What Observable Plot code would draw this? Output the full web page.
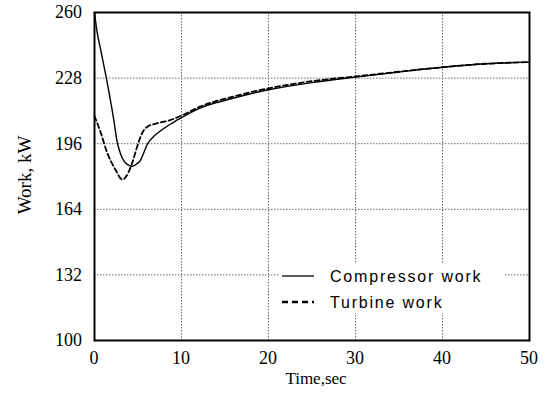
<!DOCTYPE html>
<html><head><meta charset="utf-8">
<script src="https://cdn.jsdelivr.net/npm/d3@7"></script>
<script src="https://cdn.jsdelivr.net/npm/@observablehq/plot@0.6"></script>
<style>body{margin:0;background:#fff}</style>
</head><body><div id="chart"></div>
<script>
const compTime = [0, 0.3, 0.7, 1.45, 2.2, 2.6, 3.0, 3.4, 3.8, 4.3, 4.8, 5.3, 5.7, 6.1, 6.8, 7.6, 8.7, 9.9, 12.2, 15.6, 20, 25, 30, 35, 40, 45, 50];
const compWork = [260, 250.5, 242, 226, 208, 197, 191, 187.5, 185.8, 185, 186, 188, 192, 196, 199.5, 202.3, 205.5, 208.5, 213.5, 217.8, 222.3, 225.8, 228.5, 231, 233.3, 235, 235.8];
const turbTime = [0, 0.7, 1.45, 2.4, 3.2, 3.9, 4.4, 4.9, 5.3, 5.7, 6.2, 6.8, 8.7, 9.9, 12.2, 15.6, 20, 25, 30, 35, 40, 45, 50];
const turbWork = [209.5, 201.6, 191.7, 183.4, 178.5, 182, 187.5, 194.5, 199.5, 202.8, 204.6, 205.5, 207.5, 209.5, 214.2, 218.6, 223, 226.5, 228.8, 231.1, 233.3, 235, 235.8];
const xTicks = [0, 10, 20, 30, 40, 50];
const yTicks = [100, 132, 164, 196, 228, 260];
const seriesNames = ["Compressor work", "Turbine work"];

const comp = compTime.map((t, i) => ({t, w: compWork[i]}));
const turb = turbTime.map((t, i) => ({t, w: turbWork[i]}));

const serif = "Liberation Serif";
const plot = Plot.plot({
  width: 555, height: 395,
  marginLeft: 94, marginRight: 26, marginTop: 12, marginBottom: 55,
  style: {fontFamily: serif, background: "white", color: "black", overflow: "visible"},
  x: {domain: [0, 50], axis: null},
  y: {domain: [100, 260], axis: null},
  marks: [
    Plot.ruleX(xTicks.slice(1, -1), {stroke: "#666", strokeWidth: 1, strokeDasharray: "1.5,1.5"}),
    Plot.ruleY(yTicks.slice(1, -1), {stroke: "#666", strokeWidth: 1, strokeDasharray: "1.5,1.5"}),
    Plot.line(comp, {x: "t", y: "w", stroke: "black", strokeWidth: 1.4, curve: "monotone-x"}),
    Plot.line(turb, {x: "t", y: "w", stroke: "black", strokeWidth: 1.8, strokeDasharray: "5,3", curve: "monotone-x"}),
    Plot.frame({stroke: "black", strokeWidth: 2})
  ]
});
document.getElementById("chart").appendChild(plot);

const svg = d3.select(plot);
const sx = plot.scale("x"), sy = plot.scale("y");
// tick labels through the plot's scales
const tg = svg.append("g").attr("font-family", serif).style("font-size", "18px").attr("fill", "black");
xTicks.forEach(v => tg.append("text").attr("x", sx.apply(v)).attr("y", 358).attr("dy", "0.35em")
  .attr("text-anchor", "middle").style("font-size", "18px").text(String(v)));
yTicks.forEach(v => tg.append("text").attr("x", 82).attr("y", sy.apply(v)).attr("dy", "0.35em")
  .attr("text-anchor", "end").style("font-size", "18px").text(String(v)));
// axis titles
svg.append("text").attr("x", 316).attr("y", 384).attr("text-anchor", "middle")
  .attr("font-family", serif).attr("font-size", 17).attr("fill", "black").text("Time,sec");
svg.append("text").attr("transform", "translate(31,175) rotate(-90)").attr("text-anchor", "middle")
  .attr("font-family", serif).attr("font-size", 19).attr("fill", "black").text("Work, kW");

// legend
const lg = svg.append("g").attr("text-anchor", "start");
lg.append("rect").attr("x", 280).attr("y", 263).attr("width", 225).attr("height", 50).attr("fill", "white");
const items = [
  {name: seriesNames[0], y: 276, dash: null, w: 1.3},
  {name: seriesNames[1], y: 302, dash: "6,4", w: 2.6}
];
items.forEach(it => {
  const l = lg.append("line").attr("x1", 282).attr("x2", 314).attr("y1", it.y).attr("y2", it.y)
    .attr("stroke", "black").attr("stroke-width", it.w);
  if (it.dash) l.attr("stroke-dasharray", it.dash);
  lg.append("text").attr("x", 330).attr("y", it.y).attr("dy", "0.35em").attr("text-anchor", "start")
    .attr("font-family", "Liberation Sans").attr("font-size", 16).attr("letter-spacing", 1.8)
    .attr("fill", "black").text(it.name);
});
</script></body></html>
